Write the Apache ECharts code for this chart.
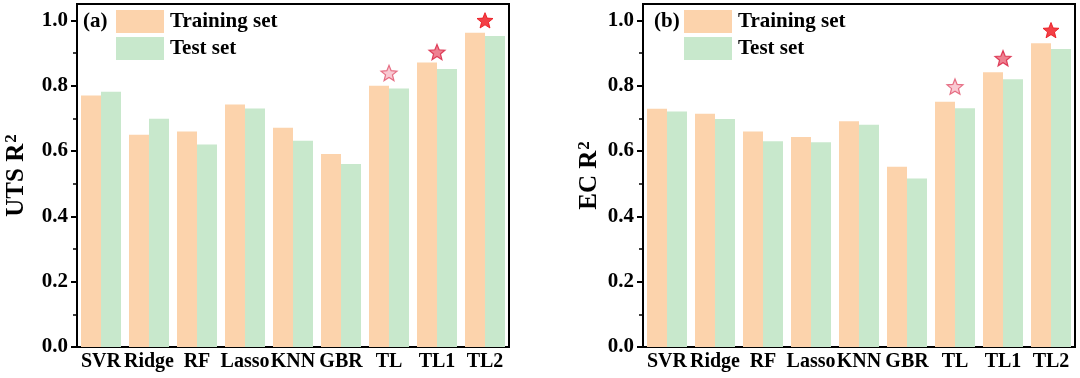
<!DOCTYPE html>
<html>
<head>
<meta charset="utf-8">
<script src="https://cdn.jsdelivr.net/npm/echarts@6/dist/echarts.min.js"></script>
<style>
html,body{margin:0;padding:0;background:#fff;}
#chart{width:1080px;height:378px;}
</style>
</head>
<body>
<div id="chart"></div>
<script>
// ---- data ----
const categories = ['SVR','Ridge','RF','Lasso','KNN','GBR','TL','TL1','TL2'];
const utsTrain = [0.77, 0.65, 0.66, 0.742, 0.671, 0.591, 0.80, 0.871, 0.962];
const utsTest  = [0.781, 0.699, 0.62, 0.73, 0.631, 0.56, 0.791, 0.851, 0.952];
const ecTrain  = [0.729, 0.714, 0.66, 0.643, 0.691, 0.552, 0.751, 0.841, 0.93];
const ecTest   = [0.721, 0.698, 0.63, 0.627, 0.68, 0.516, 0.731, 0.82, 0.912];
const starCats = ['TL','TL1','TL2'];
const utsStars = [0.839, 0.903, 1.0];
const ecStars  = [0.797, 0.884, 0.97];
const majorTicks = [0, 0.2, 0.4, 0.6, 0.8, 1.0];
const minorTicks = [0.1, 0.3, 0.5, 0.7, 0.9];
const seriesNames = ['Training set', 'Test set'];
const panelLabels = ['(a)', '(b)'];
const yTitles = ['UTS R', 'EC R'];

// ---- style ----
const FONT = "'Liberation Serif','Times New Roman',serif";
const ORANGE = '#FCD3AC';
const GREEN = '#C8E8CC';
const starPath = 'path://M12,0.5 L15.1,8.3 L23.5,8.9 L17,14.3 L19.1,22.5 L12,18 L4.9,22.5 L7,14.3 L0.5,8.9 L8.9,8.3 Z';
const starStyles = [
  {color: '#F7BCC7', borderColor: '#E0506A', borderWidth: 1.2},
  {color: '#EA6176', borderColor: '#D81E3E', borderWidth: 1.2},
  {color: '#F01018', borderColor: '#E80C14', borderWidth: 1}
];
const grids = [
  {left: 77, top: 4, width: 432, height: 343},
  {left: 643, top: 4, width: 432, height: 343}
];
const nameGaps = [46, 39];
const legendLeft = [116, 684];
const labelLeft = [83, 654];

const chart = echarts.init(document.getElementById('chart'), null, {renderer: 'canvas'});

const option = {
  animation: false,
  backgroundColor: '#fff',
  grid: grids.map(g => Object.assign({show: true, borderColor: '#000', borderWidth: 2, backgroundColor: 'transparent', containLabel: false, outerBoundsMode: 'none'}, g)),
  legend: legendLeft.map(l => ({
    left: l, top: 10, orient: 'vertical', padding: 0,
    itemWidth: 48, itemHeight: 23, itemGap: 4,
    icon: 'rect', selectedMode: false,
    data: seriesNames,
    textStyle: {fontFamily: FONT, fontWeight: 'bold', fontSize: 21, color: '#000', padding: [0,0,0,1]}
  })),
  graphic: panelLabels.map((t, i) => ({
    type: 'text', left: labelLeft[i], top: 11,
    style: {text: t, font: 'bold 21px ' + FONT, fill: '#000'}
  })),
  xAxis: grids.map((g, i) => ({
    type: 'category', gridIndex: i, data: categories,
    axisLine: {lineStyle: {color: '#000', width: 2}},
    axisTick: {show: false},
    axisLabel: {fontFamily: FONT, fontWeight: 'bold', fontSize: 20, color: '#000', margin: 5, interval: 0}
  })),
  yAxis: [].concat(...grids.map((g, i) => [
    {
      type: 'value', gridIndex: i, min: 0, max: 1.05,
      splitLine: {show: false},
      axisLine: {show: true, lineStyle: {color: '#000', width: 2}},
      axisTick: {show: true, inside: false, length: 6, lineStyle: {width: 2, color: '#000'}, customValues: majorTicks},
      axisLabel: {customValues: majorTicks, formatter: v => v.toFixed(1), fontFamily: FONT, fontWeight: 'bold', fontSize: 21, color: '#000', margin: 9},
      name: '{a|' + yTitles[i] + '}{b|2}',
      nameLocation: 'middle', nameGap: nameGaps[i], nameRotate: 90,
      nameTextStyle: {
        rich: {
          a: {fontFamily: FONT, fontWeight: 'bold', fontSize: 25, color: '#000', lineHeight: 28},
          b: {fontFamily: FONT, fontWeight: 'bold', fontSize: 17, color: '#000', verticalAlign: 'top', lineHeight: 28, padding: [0,0,0,1]}
        }
      }
    },
    {
      type: 'value', gridIndex: i, min: 0, max: 1.05, position: 'left',
      splitLine: {show: false},
      axisLine: {show: false},
      axisTick: {show: true, inside: false, length: 4, lineStyle: {width: 1.5, color: '#000'}, customValues: minorTicks},
      axisLabel: {show: false}
    }
  ])),
  series: []
};

const panelData = [[utsTrain, utsTest, utsStars], [ecTrain, ecTest, ecStars]];
panelData.forEach((d, i) => {
  option.series.push({
    name: seriesNames[0], type: 'bar', xAxisIndex: i, yAxisIndex: i * 2,
    data: d[0], barWidth: 20, barGap: '0%',
    itemStyle: {color: ORANGE}
  });
  option.series.push({
    name: seriesNames[1], type: 'bar', xAxisIndex: i, yAxisIndex: i * 2,
    data: d[1], barWidth: 20, barGap: '0%',
    itemStyle: {color: GREEN}
  });
  option.series.push({
    name: 'stars', type: 'scatter', xAxisIndex: i, yAxisIndex: i * 2,
    symbol: starPath, symbolSize: 16, symbolKeepAspect: true, z: 5,
    data: starCats.map((c, k) => ({value: [c, d[2][k]], itemStyle: starStyles[k]}))
  });
});

chart.setOption(option);
</script>
</body>
</html>
